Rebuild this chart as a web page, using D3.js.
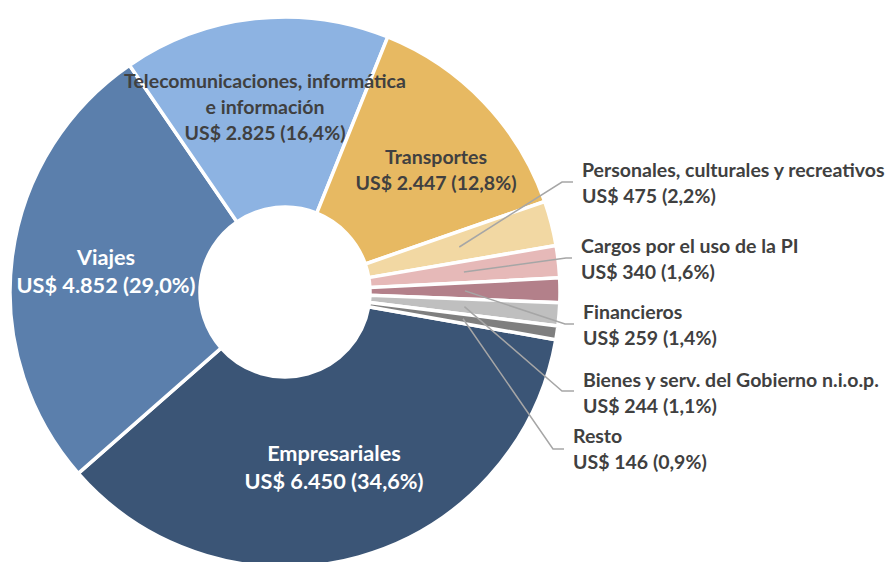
<!DOCTYPE html>
<html>
<head>
<meta charset="utf-8">
<script src="https://cdn.jsdelivr.net/npm/d3@7"></script>
<style>
body { margin: 0; background: #fff; }
text { font-family: Lato, "Open Sans", sans-serif; font-weight: 700; }
</style>
</head>
<body>
<script>
var width = 895;
var height = 562;

// datos (millones de US$)
var categories = ["Empresariales", "Viajes", "Telecomunicaciones, informática e información", "Transportes",
  "Personales, culturales y recreativos", "Cargos por el uso de la PI", "Financieros",
  "Bienes y serv. del Gobierno n.i.o.p.", "Resto"];
var values = [6450, 4852, 2825, 2447, 475, 340, 259, 244, 146];
var shares = ["34,6%", "29,0%", "16,4%", "12,8%", "2,2%", "1,6%", "1,4%", "1,1%", "0,9%"];
var valueLabels = ["6.450", "4.852", "2.825", "2.447", "475", "340", "259", "244", "146"];
var nameLines = [["Empresariales"], ["Viajes"], ["Telecomunicaciones, informática", "e información"], ["Transportes"],
  ["Personales, culturales y recreativos"], ["Cargos por el uso de la PI"], ["Financieros"],
  ["Bienes y serv. del Gobierno n.i.o.p."], ["Resto"]];

var colors = ["#3b5576", "#5b7fac", "#8db3e2", "#e7b962", "#f2d8a3", "#e6b9b8", "#b3808a", "#bfbfbf", "#7f7f7f"];

// posiciones de etiquetas
var inside = [
  {x: 334, y: 467, big: true, color: "#fff"},
  {x: 106, y: 271, big: true, color: "#fff"},
  {x: 265, y: 107, big: false, color: "#404040"},
  {x: 436, y: 170, big: false, color: "#404040"}
];
var outside = [
  {x: 582, y: 177, ex: 562, ey: 182, hx: 573},
  {x: 581, y: 253, ex: 566, ey: 258, hx: 572},
  {x: 583, y: 319, ex: 565, ey: 324, hx: 574},
  {x: 583, y: 387, ex: 562, ey: 391, hx: 574},
  {x: 573, y: 443, ex: 553, ey: 449, hx: 564}
];

var cx = 285, cy = 292;
var fsSmall = 19.5, fsBig = 21.7, lh = 26;

var svg = d3.select("body")
  .append("svg")
  .attr("width", width)
  .attr("height", height);

var g = svg.append("g").attr("transform", "translate(" + cx + "," + cy + ")");

var a0 = 100 * Math.PI / 180;
var pie = d3.pie().sort(null).startAngle(a0).endAngle(a0 + 2 * Math.PI);
var arcs = pie(values);

var arc = d3.arc().innerRadius(85).outerRadius(275);

g.selectAll("path")
  .data(arcs)
  .enter()
  .append("path")
  .attr("d", arc)
  .style("fill", function(d, i) { return colors[i]; })
  .style("stroke", "#fff")
  .style("stroke-width", 3.5)
  .style("stroke-linejoin", "miter");

// lineas guia
outside.forEach(function(o, k) {
  var i = k + 4;
  var c = arc.centroid(arcs[i]);
  svg.append("polyline")
    .attr("points", [[c[0] + cx, c[1] + cy], [o.ex, o.ey], [o.hx, o.ey]].join(" "))
    .style("fill", "none")
    .style("stroke", "#a6a6a6")
    .style("stroke-width", 1.5);
});

function lines(i) {
  return nameLines[i].concat(["US$ " + valueLabels[i] + " (" + shares[i] + ")"]);
}

inside.forEach(function(p, i) {
  var ls = lines(i);
  var fs = p.big ? fsBig : fsSmall;
  var l = p.big ? 28 : lh;
  var t = svg.append("text")
    .attr("text-anchor", "middle")
    .style("font-size", fs + "px")
    .style("fill", p.color);
  ls.forEach(function(s, j) {
    t.append("tspan")
      .attr("x", p.x)
      .attr("y", p.y - (ls.length - 1) * l / 2 + j * l + fs * 0.35)
      .text(s);
  });
});

outside.forEach(function(o, k) {
  var i = k + 4;
  var ls = lines(i);
  var t = svg.append("text")
    .style("font-size", fsSmall + "px")
    .style("fill", "#404040");
  ls.forEach(function(s, j) {
    t.append("tspan")
      .attr("x", o.x)
      .attr("y", o.y + j * lh)
      .text(s);
  });
});
</script>
</body>
</html>
